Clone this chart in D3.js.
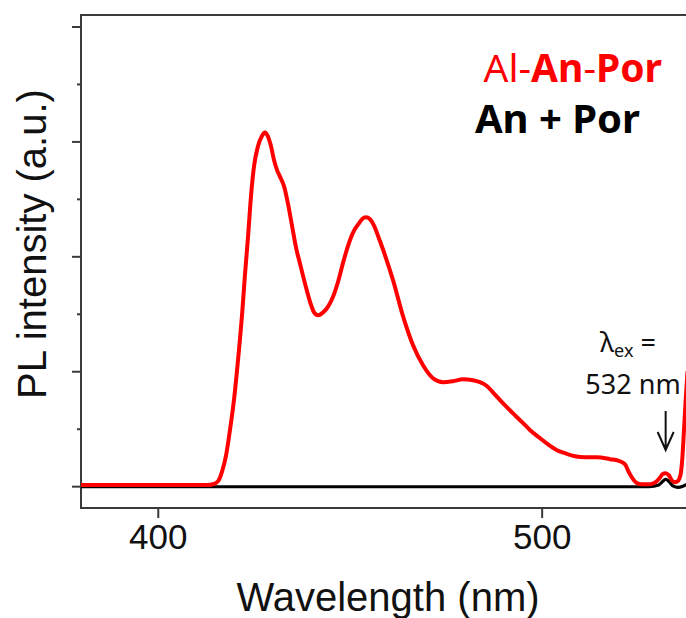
<!DOCTYPE html>
<html>
<head>
<meta charset="utf-8">
<script src="https://cdn.jsdelivr.net/npm/d3@7"></script>
<style>
  html, body { margin: 0; padding: 0; background: #fff; }
  svg { display: block; }
</style>
</head>
<body>
<svg id="chart" width="686" height="618"></svg>
<script>
// PL spectrum of the Al-An-Por assembly (red)
const alWavelength = [380.0, 398.0, 411.0, 412.8, 414.4, 415.7, 416.7, 417.8, 418.8, 419.9, 420.9, 422.0,
  422.7, 423.5, 424.3, 425.1, 426.1, 427.2, 427.9, 428.7, 429.5, 430.3, 431.1, 431.8, 432.9, 433.9,
  435.0, 436.0, 437.1, 438.4, 439.7, 440.7, 441.8, 443.1, 444.4, 445.7, 447.0, 448.3, 449.6, 450.9,
  452.2, 453.2, 454.2, 455.3, 456.3, 457.6, 459.2, 461.3, 463.9, 466.5, 469.1, 471.7, 474.3, 476.9,
  479.5, 482.1, 483.9, 485.8, 487.3, 489.9, 492.5, 494.9, 497.0, 499.6, 501.6, 504.0, 506.1, 508.7,
  511.3, 514.4, 517.8, 520.4, 521.7, 522.7, 523.8, 524.8, 526.1, 528.2, 529.7, 530.7, 531.5, 532.3,
  533.1, 533.9, 534.6, 535.4, 536.2, 536.7, 537.0, 537.5, 538.0];
const alIntensity = [0.01, 0.01, 0.01, 0.01, 0.017, 0.043, 0.122, 0.27, 0.487, 0.765, 1.096, 1.513,
  1.835, 2.165, 2.53, 2.791, 2.957, 3.052, 3.078, 3.043, 2.957, 2.835, 2.748, 2.696, 2.609, 2.461,
  2.261, 2.078, 1.93, 1.757, 1.6, 1.513, 1.487, 1.513, 1.565, 1.652, 1.783, 1.948, 2.096, 2.209,
  2.278, 2.322, 2.339, 2.322, 2.27, 2.157, 2.009, 1.791, 1.478, 1.226, 1.052, 0.939, 0.904, 0.913,
  0.93, 0.922, 0.905, 0.87, 0.817, 0.722, 0.635, 0.557, 0.487, 0.417, 0.365, 0.313, 0.287, 0.261,
  0.252, 0.252, 0.235, 0.217, 0.191, 0.122, 0.061, 0.026, 0.017, 0.017, 0.035, 0.07, 0.104, 0.113,
  0.096, 0.052, 0.035, 0.043, 0.104, 0.27, 0.443, 0.74, 1.0];

// PL spectrum of the An + Por mixture (black)
const mixWavelength = [380.0, 420.0, 450.0, 480.0, 510.0, 528.0, 530.5, 531.5, 532.3, 533.2, 534.3, 535.5, 536.8, 538.0];
const mixIntensity = [-0.005, -0.005, -0.005, -0.005, -0.005, -0.005, 0.01, 0.04, 0.06, 0.04, 0.0, -0.01, 0.0, 0.02];

// Axis ticks
const xTicks = [400, 500];
const yMajorTicks = [0, 1, 2, 3, 4];
const yMinorTicks = [0.5, 1.5, 2.5, 3.5];

const svg = d3.select("#chart");
const plotLeft = 81, plotRight = 686, plotTop = 15, plotBottom = 508;

const x = d3.scaleLinear().domain([380, 537.6]).range([plotLeft, plotRight]);
const y = d3.scaleLinear().domain([-0.19, 4.1]).range([plotBottom, plotTop]);

const sansFont = "'Liberation Sans', Arial, sans-serif";
const legendFont = "'Noto Sans', 'Open Sans', sans-serif";
const frameColor = "#3a3a3a";

svg.append("defs").append("clipPath").attr("id", "plot-clip")
  .append("rect").attr("x", plotLeft).attr("y", plotTop)
  .attr("width", plotRight - plotLeft).attr("height", plotBottom - plotTop);

// Ticks
const yMajorAxis = d3.axisLeft(y).tickValues(yMajorTicks).tickSize(9).tickFormat("");
const yMinorAxis = d3.axisLeft(y).tickValues(yMinorTicks).tickSize(4).tickFormat("");
const xAxis = d3.axisBottom(x).tickValues(xTicks).tickSize(10).tickPadding(6).tickFormat(d3.format("d"));

function styleAxis(g) {
  g.select(".domain").remove();
  g.selectAll(".tick line").attr("stroke", frameColor).attr("stroke-width", 2);
}
svg.append("g").attr("transform", `translate(${plotLeft},0)`).call(yMajorAxis).call(styleAxis);
svg.append("g").attr("transform", `translate(${plotLeft},0)`).call(yMinorAxis).call(styleAxis);
const gx = svg.append("g").attr("transform", `translate(0,${plotBottom})`).call(xAxis).call(styleAxis);
gx.selectAll(".tick text")
  .attr("font-family", sansFont).attr("font-size", 35).attr("fill", "#111").attr("dy", "0.71em");

// Frame: left, top and bottom edges
svg.append("path")
  .attr("d", `M${plotRight},${plotTop}H${plotLeft}V${plotBottom}H${plotRight}`)
  .attr("fill", "none").attr("stroke", frameColor).attr("stroke-width", 2);

// Spectra
const plot = svg.append("g").attr("clip-path", "url(#plot-clip)");
const line = d3.line().curve(d3.curveMonotoneX).x(d => x(d[0])).y(d => y(d[1]));

plot.append("path")
  .datum(d3.zip(mixWavelength, mixIntensity))
  .attr("d", line).attr("fill", "none").attr("stroke", "#000").attr("stroke-width", 3.2);
plot.append("path")
  .datum(d3.zip(alWavelength, alIntensity))
  .attr("d", line).attr("fill", "none").attr("stroke", "#ff0000").attr("stroke-width", 4)
  .attr("stroke-linejoin", "round");

// Axis titles
svg.append("text")
  .attr("transform", "translate(46,244) rotate(-90)")
  .attr("text-anchor", "middle")
  .attr("font-family", sansFont).attr("font-size", 40).attr("fill", "#111")
  .text("PL intensity (a.u.)");
svg.append("text")
  .attr("x", 388).attr("y", 611)
  .attr("text-anchor", "middle")
  .attr("font-family", sansFont).attr("font-size", 40).attr("fill", "#111")
  .text("Wavelength (nm)");

// Legend
const leg1 = svg.append("text")
  .attr("x", 662).attr("y", 82).attr("text-anchor", "end")
  .attr("font-family", legendFont).attr("font-size", 39).attr("fill", "#ff0000");
leg1.append("tspan").attr("font-weight", 400).text("Al-");
leg1.append("tspan").attr("font-weight", 700).text("An");
leg1.append("tspan").attr("font-weight", 400).text("-");
leg1.append("tspan").attr("font-weight", 700).text("Por");

svg.append("text")
  .attr("x", 640).attr("y", 133).attr("text-anchor", "end")
  .attr("font-family", legendFont).attr("font-size", 40).attr("font-weight", 700).attr("fill", "#000")
  .text("An + Por");

// Excitation annotation
const ann = svg.append("text")
  .attr("x", 628).attr("y", 352).attr("text-anchor", "middle")
  .attr("font-family", legendFont).attr("font-size", 27).attr("fill", "#111");
ann.append("tspan").text("λ");
ann.append("tspan").attr("font-size", 18).attr("dy", 5).text("ex");
ann.append("tspan").attr("dy", -5).text(" =");

svg.append("text")
  .attr("x", 633).attr("y", 394).attr("text-anchor", "middle")
  .attr("font-family", legendFont).attr("font-size", 27).attr("fill", "#111")
  .text("532 nm");

const ax = x(532.3);
svg.append("path")
  .attr("d", `M${ax},411V450M${ax - 8},432L${ax},450L${ax + 8},432`)
  .attr("fill", "none").attr("stroke", "#111").attr("stroke-width", 2);
</script>
</body>
</html>
